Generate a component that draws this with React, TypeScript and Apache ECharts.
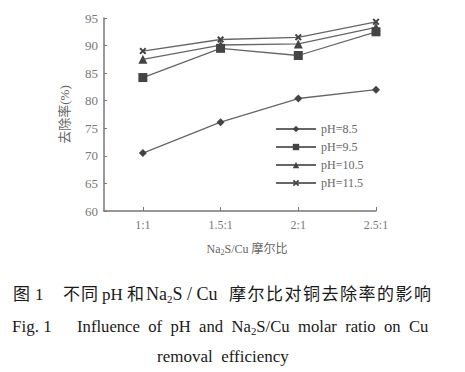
import React, { useEffect, useRef } from "react";
import * as echarts from "echarts";

const categories = ["1:1", "1.5:1", "2:1", "2.5:1"];
const seriesNames = ["pH=8.5", "pH=9.5", "pH=10.5", "pH=11.5"];
const ph85 = [70.5, 76.1, 80.4, 82.0];
const ph95 = [84.2, 89.5, 88.2, 92.5];
const ph105 = [87.5, 90.1, 90.3, 93.3];
const ph115 = [89.0, 91.1, 91.5, 94.3];
const yTicks = [60, 65, 70, 75, 80, 85, 90, 95];

const SERIF = "Liberation Serif, DejaVu Serif, serif";
const CJK = "Liberation Serif, Noto Sans CJK SC, serif";

const xMark = "path://M2,0 L5,3 L8,0 L10,2 L7,5 L10,8 L8,10 L5,7 L2,10 L0,8 L3,5 L0,2 Z";

export default function App() {
  const ref = useRef<HTMLDivElement>(null);
  useEffect(() => {
    document.body.style.margin = "0";
    const chart = echarts.init(ref.current!, null, { renderer: "svg" });
    const pts = (v: number[]) => categories.map((_, i) => [i + 1, v[i]]);
    const symbols = ["diamond", "rect", "triangle", xMark];
    const sizes = [8, 9, 9, 7];
    const vals = [ph85, ph95, ph105, ph115];
    const ink = "#1a1a1a";
    const sub = { fontSize: 11, padding: [9, 0, 0, 0], fontFamily: SERIF, color: ink };

    const txt = (text: string, x: number, y: number, size: number, family: string, extra: any = {}) => ({
      type: "text",
      x,
      y,
      ...extra,
      style: {
        text,
        fontSize: size,
        fontFamily: family,
        fill: ink,
        verticalAlign: "middle",
        align: "left",
        rich: { s: sub },
      },
    });

    const line1Tail = "摩尔比对铜去除率的影响";
    const graphics: any[] = [
      txt("图", 13, 294, 17, CJK),
      txt("1", 35, 294, 17, SERIF),
      txt("不", 63, 294, 17, CJK),
      txt("同", 81, 294, 17, CJK),
      txt("pH", 102, 294, 17, SERIF),
      txt("和", 127, 294, 17, CJK),
      txt("Na{s|2}S / Cu", 146, 294, 18, SERIF),
      ...line1Tail.split("").map((c, i) => txt(c, 229 + i * 18.5, 294, 17, CJK)),
      txt("Fig. 1", 12, 326, 17, SERIF),
      txt("Influence  of  pH  and  Na{s|2}S/Cu  molar  ratio  on  Cu", 77, 326, 17, SERIF, {
        scaleX: 0.98,
        originX: 0,
        originY: 0,
      }),
      txt("removal  efficiency", 157, 356, 17, SERIF),
    ];

    chart.setOption({
      animation: false,
      backgroundColor: "#fff",
      grid: { left: 104, top: 18, right: 89, bottom: 161 },
      xAxis: {
        type: "value",
        min: 0.5,
        max: 4,
        interval: 0.5,
        name: "Na{s|2}S/Cu 摩尔比",
        nameLocation: "middle",
        nameGap: 31,
        nameTextStyle: {
          fontFamily: CJK,
          fontSize: 12,
          color: "#666",
          padding: [0, 0, 0, 14],
          rich: { s: { fontSize: 8, padding: [6, 0, 0, 0], color: "#666", fontFamily: SERIF } },
        },
        axisLine: { lineStyle: { color: "#777", width: 1.5 } },
        axisTick: { inside: true, length: 4, customValues: [1, 2, 3, 4], lineStyle: { color: "#777" } },
        axisLabel: {
          customValues: [1, 2, 3, 4],
          formatter: (v: number) => categories[Math.round(v) - 1] ?? "",
          fontFamily: SERIF,
          fontSize: 12,
          color: "#777",
          margin: 8,
        },
        splitLine: { show: false },
      },
      yAxis: {
        type: "value",
        min: 60,
        max: 95,
        interval: 5,
        name: "去除率(%)",
        nameLocation: "middle",
        nameGap: 33,
        nameTextStyle: { fontFamily: CJK, fontSize: 13, color: "#666" },
        axisLine: { show: true, lineStyle: { color: "#777", width: 1.5 } },
        axisTick: { show: true, inside: true, length: 3, lineStyle: { color: "#777" } },
        axisLabel: {
          fontFamily: SERIF,
          fontSize: 13,
          color: "#777",
          margin: 6,
          formatter: (v: number) => (yTicks.includes(v) ? String(v) : ""),
        },
        splitLine: { show: false },
      },
      legend: {
        orient: "vertical",
        left: 275,
        top: 123,
        padding: 0,
        itemWidth: 40,
        itemHeight: 8,
        itemGap: 6,
        textStyle: { fontFamily: SERIF, fontSize: 12, color: "#666" },
        data: seriesNames,
      },
      series: seriesNames.map((n, k) => ({
        name: n,
        type: "line",
        data: pts(vals[k]),
        symbol: symbols[k],
        symbolSize: sizes[k],
        lineStyle: { color: "#666", width: 1.3 },
        itemStyle: { color: "#444" },
      })),
      graphic: graphics,
    });
    return () => chart.dispose();
  }, []);
  return <div ref={ref} style={{ position: "absolute", left: 0, top: 0, width: 465, height: 372 }} />;
}
